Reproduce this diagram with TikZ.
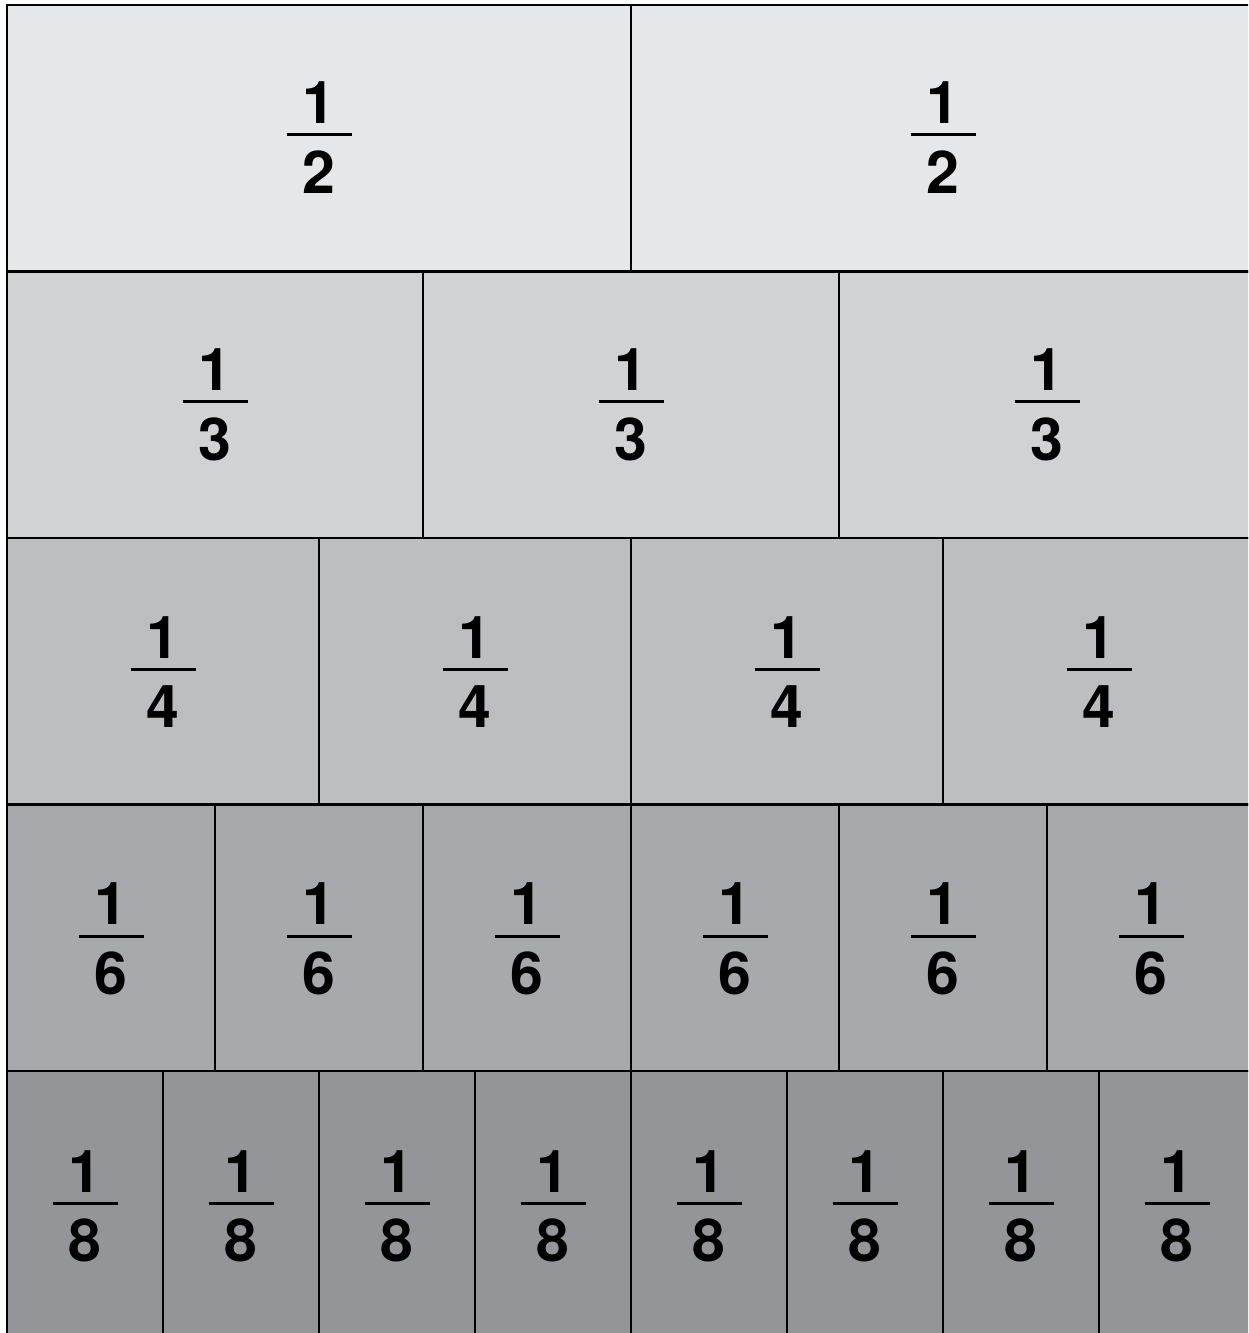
\documentclass[tikz,border=0pt]{standalone}
\usepackage{fontspec}
\setmainfont{TeX Gyre Heros}
\definecolor{rowA}{HTML}{E6E7E8}
\definecolor{rowB}{HTML}{D1D2D4}
\definecolor{rowC}{HTML}{BCBEC0}
\definecolor{rowD}{HTML}{A7A9AC}
\definecolor{rowE}{HTML}{939598}
\newcommand\fracbox[2]{\vbox{\hbox to 65pt{\hss#1\hss}\kern10pt\hrule height 3pt\kern14pt\hbox to 65pt{\hss#2\hss}}}
\tikzset{
  cell/.style={draw=black, line width=2.5pt},
  frac/.style={inner sep=0pt, font=\bfseries\fontsize{59}{59}\selectfont}
}
\begin{document}
\begin{tikzpicture}[x=1pt,y=-1pt]
\useasboundingbox (0,0) rectangle (1248,1333);
\clip (0,0) rectangle (1248,1333);
\foreach \den/\col/\r in {2/rowA/0,3/rowB/1,4/rowC/2,6/rowD/3,8/rowE/4}{
  \pgfmathsetmacro\w{1248/\den}
  \foreach \i in {1,...,\den}{
    \draw[cell, fill=\col] ({7+(\i-1)*\w},{5+\r*266.5}) rectangle ++(\w,266.5);
    \node[frac] (f\den-\i) at ({7+(\i-0.5)*\w},{5+(\r+0.5)*266.5-1+0.75*\r}) {\fracbox{1}{\den}};
  }
}
\end{tikzpicture}
\end{document}
